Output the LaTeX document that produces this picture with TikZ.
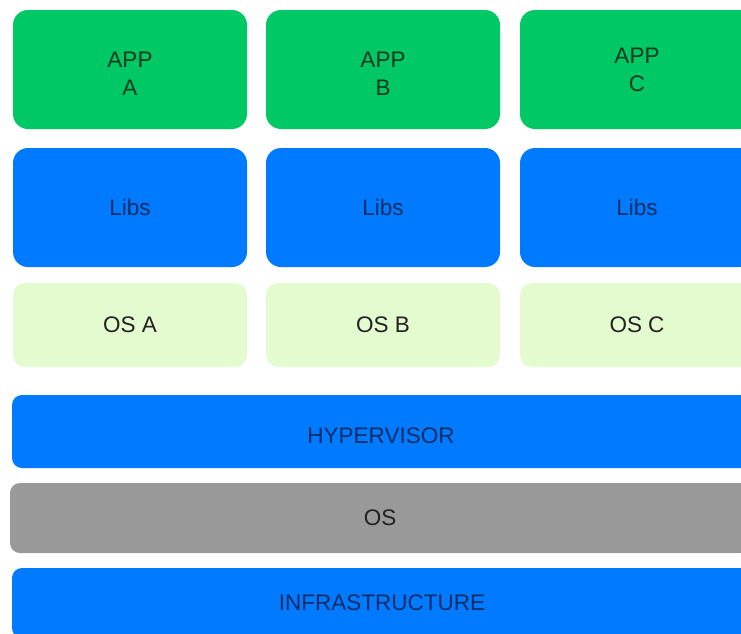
\documentclass[tikz,border=0pt]{standalone}
\usepackage{fontspec}
\setmainfont{Liberation Sans}
\definecolor{appgreen}{HTML}{00C865}
\definecolor{libblue}{HTML}{007BFF}
\definecolor{ospale}{HTML}{E4FBD0}
\definecolor{hostgray}{HTML}{999999}
\definecolor{greentext}{HTML}{0E3A1F}
\definecolor{bluetext}{HTML}{0A2C66}
\definecolor{darktext}{HTML}{222222}
\tikzset{
  layer/.style={inner sep=0pt, outer sep=0pt, minimum height=#1, anchor=north west},
  appbox/.style={layer=119pt, minimum width=234pt, fill=appgreen, rounded corners=15pt},
  libbox/.style={layer=119pt, minimum width=234pt, fill=libblue, rounded corners=15pt, text=bluetext},
  osbox/.style={layer=84pt, minimum width=234pt, fill=ospale, rounded corners=12pt, text=darktext},
  barbox/.style={layer=#1, minimum width=740pt, rounded corners=10pt},
  apptext/.style={align=center, text=greentext, inner sep=0pt},
  bartext/.style={inner sep=0pt},
  every node/.append style={font=\fontsize{22.5}{28}\selectfont}
}
\begin{document}
\begin{tikzpicture}[x=1pt,y=-1pt]
  \useasboundingbox (0,0) rectangle (741,633);
  \fill[white] (0,0) rectangle (741,633);
  \clip (0,0) rectangle (741,633);

  % application layer
  \node[appbox] (appA) at (13,10) {};
  \node[appbox] (appB) at (266,10) {};
  \node[appbox] (appC) at (520,10) {};
  \node[apptext] (labA) at (appA.center) [yshift=-4.5pt] {APP\\A};
  \node[apptext] (labB) at (appB.center) [yshift=-4.5pt] {APP\\B};
  \node[apptext] (labC) at (appC.center) {APP\\C};

  % libraries
  \node[libbox] (libA) at (13,148) {Libs};
  \node[libbox] (libB) at (266,148) {Libs};
  \node[libbox] (libC) at (520,148) {Libs};

  % guest operating systems
  \node[osbox] (osA) at (13,283) {OS A};
  \node[osbox] (osB) at (266,283) {OS B};
  \node[osbox] (osC) at (520,283) {OS C};

  % shared layers
  \node[barbox=73pt, fill=libblue] (hyper) at (12,395) {};
  \node[bartext, text=bluetext] (hyperlab) at (381,436) {HYPERVISOR};
  \node[barbox=70pt, fill=hostgray, text=darktext] (hostos) at (10,483) {OS};
  \node[barbox=70pt, fill=libblue, text=bluetext] (infra) at (12,568) {INFRASTRUCTURE};
\end{tikzpicture}
\end{document}
